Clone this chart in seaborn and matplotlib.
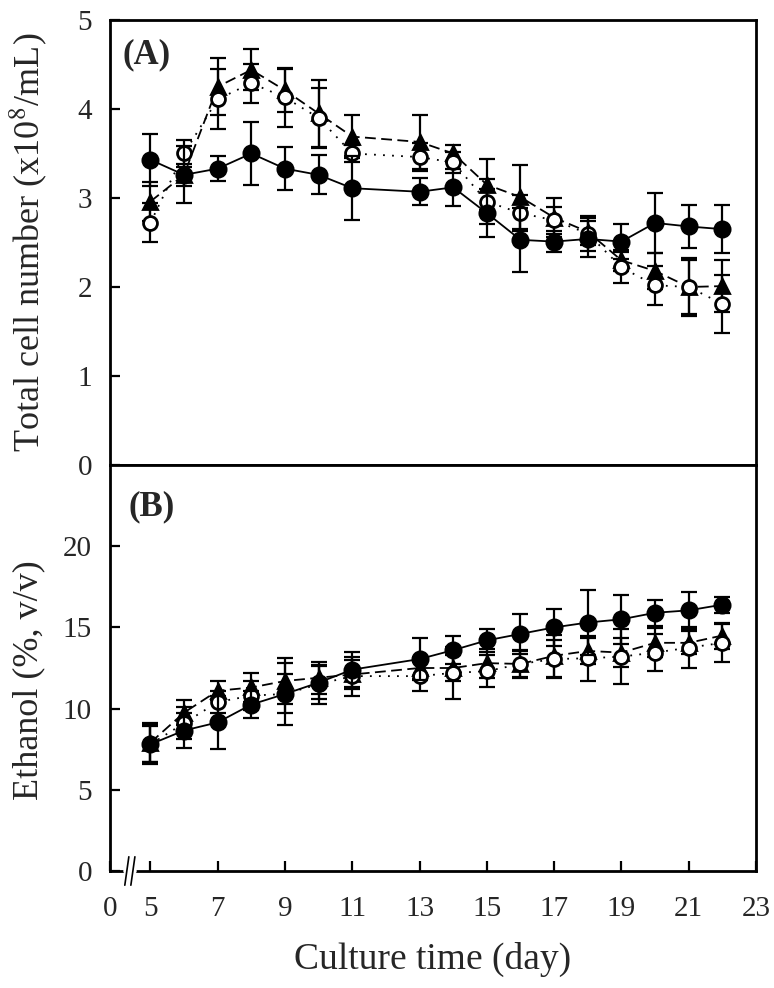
import matplotlib
matplotlib.use('Agg')
import matplotlib.pyplot as plt
import matplotlib.transforms as mtransforms
import seaborn as sns

# Culture days sampled
days = [5, 6, 7, 8, 9, 10, 11, 13, 14, 15, 16, 17, 18, 19, 20, 21, 22]

# (A) Total cell number (x10^8/mL)
cell_fill = [3.43, 3.26, 3.33, 3.50, 3.33, 3.26, 3.11, 3.07, 3.12, 2.83, 2.53, 2.51, 2.54, 2.51, 2.72, 2.68, 2.65]
cell_fill_err = [0.29, 0.32, 0.14, 0.35, 0.24, 0.22, 0.36, 0.15, 0.21, 0.27, 0.36, 0.12, 0.20, 0.20, 0.34, 0.24, 0.27]
cell_open = [2.72, 3.50, 4.11, 4.29, 4.13, 3.90, 3.50, 3.46, 3.40, 2.96, 2.83, 2.75, 2.60, 2.22, 2.02, 2.00, 1.81]
cell_open_err = [0.22, 0.15, 0.34, 0.22, 0.33, 0.34, 0.10, 0.16, 0.12, 0.25, 0.20, 0.15, 0.20, 0.17, 0.22, 0.30, 0.33]
cell_tri = [2.96, 3.26, 4.25, 4.44, 4.21, 3.95, 3.69, 3.63, 3.50, 3.15, 3.01, 2.78, 2.62, 2.30, 2.18, 2.00, 2.01]
cell_tri_err = [0.22, 0.12, 0.32, 0.23, 0.24, 0.38, 0.24, 0.30, 0.10, 0.29, 0.36, 0.22, 0.15, 0.12, 0.20, 0.33, 0.29]

# (B) Ethanol (%, v/v)
eth_fill = [7.8, 8.65, 9.15, 10.25, 10.9, 11.6, 12.4, 13.05, 13.6, 14.2, 14.6, 15.0, 15.3, 15.5, 15.9, 16.05, 16.4]
eth_fill_err = [1.2, 1.1, 1.65, 0.85, 1.2, 1.0, 1.1, 1.3, 0.85, 0.7, 1.25, 1.15, 2.0, 1.5, 0.8, 1.15, 0.5]
eth_open = [7.8, 9.1, 10.4, 10.8, 10.9, 11.5, 12.0, 12.0, 12.2, 12.3, 12.75, 13.05, 13.1, 13.2, 13.45, 13.75, 14.05]
eth_open_err = [1.1, 1.0, 0.7, 0.9, 1.9, 1.2, 1.2, 0.9, 1.6, 1.0, 0.85, 1.15, 1.4, 1.7, 1.15, 1.25, 1.15]
eth_tri = [7.9, 9.75, 11.1, 11.3, 11.7, 11.9, 12.1, 12.5, 12.5, 12.8, 12.75, 13.25, 13.55, 13.45, 14.05, 14.05, 14.5]
eth_tri_err = [1.2, 0.75, 0.6, 0.9, 1.4, 1.0, 0.9, 0.7, 0.8, 0.9, 0.8, 1.3, 0.8, 0.9, 0.9, 0.7, 0.8]

x_ticks = [3.8, 5, 7, 9, 11, 13, 15, 17, 19, 21, 23]
x_tick_labels = ['0', '5', '7', '9', '11', '13', '15', '17', '19', '21', '23']

sns.set_style('ticks')
plt.rcParams['font.family'] = ['Liberation Serif', 'DejaVu Serif']
plt.rcParams['mathtext.fontset'] = 'stix'
plt.rcParams['xtick.direction'] = 'in'
plt.rcParams['ytick.direction'] = 'in'

fig = plt.figure(figsize=(7.74, 9.88), dpi=100)
ax_a = fig.add_axes([110 / 774, 1 - 465 / 988, 646 / 774, 445 / 988])
ax_b = fig.add_axes([110 / 774, 1 - 871 / 988, 646 / 774, 406 / 988])

styles = [
    dict(marker='^', markersize=10, markerfacecolor='black', linestyle=(0, (6, 3)), z=3),
    dict(marker='o', markersize=10, markerfacecolor='white', linestyle=(0, (1, 4)), z=4),
    dict(marker='o', markersize=11, markerfacecolor='black', linestyle='-', z=5),
]


def draw_panel(ax, series):
    for (vals, errs), st in zip(series, styles):
        ax.errorbar(days, vals, yerr=errs, fmt='none', ecolor='black',
                    elinewidth=1.6, capsize=6, capthick=1.6, zorder=st['z'])
        sns.lineplot(x=days, y=vals, ax=ax, color='black', linewidth=1.3,
                     marker=st['marker'], markersize=st['markersize'],
                     markerfacecolor=st['markerfacecolor'], markeredgecolor='black',
                     markeredgewidth=2, linestyle=st['linestyle'], zorder=st['z'])
    for sp in ax.spines.values():
        sp.set_visible(True)
        sp.set_linewidth(2)
        sp.set_color('black')
    ax.set_xlim(3.8, 23)
    ax.tick_params(axis='both', length=7, width=1.6, labelsize=21, color='black')
    ax.tick_params(axis='y', pad=13)


draw_panel(ax_a, [(cell_tri, cell_tri_err), (cell_open, cell_open_err), (cell_fill, cell_fill_err)])
draw_panel(ax_b, [(eth_tri, eth_tri_err), (eth_open, eth_open_err), (eth_fill, eth_fill_err)])

# Top panel
ax_a.set_ylim(0, 5)
ax_a.set_yticks([0, 1, 2, 3, 4, 5])
ax_a.set_xticks([])
ax_a.set_ylabel(r'Total cell number (x10$^{8}$/mL)', fontsize=26)
ax_a.yaxis.set_label_coords(-0.095, 0.5)
ax_a.text(0.02, 0.958, '(A)', transform=ax_a.transAxes, fontsize=25,
          fontweight='bold', ha='left', va='top')

# Bottom panel
ax_b.set_ylim(0, 25)
ax_b.set_yticks([0, 5, 10, 15, 20])
ax_b.set_xticks(x_ticks)
ax_b.set_xticklabels(x_tick_labels)
ax_b.tick_params(axis='x', pad=18)
ax_b.set_ylabel('Ethanol (%, v/v)', fontsize=26)
ax_b.yaxis.set_label_coords(-0.1, 0.47)
ax_b.set_xlabel('Culture time (day)', fontsize=27, labelpad=14)
ax_b.text(0.028, 0.938, '(B)', transform=ax_b.transAxes, fontsize=25,
          fontweight='bold', ha='left', va='top')

# axis break mark on the x axis
trans = mtransforms.blended_transform_factory(ax_b.transData, ax_b.transAxes)
ax_b.plot([4.28, 4.52], [0, 0], color='white', linewidth=4, transform=trans,
          clip_on=False, zorder=10)
for xb in (4.3, 4.48):
    ax_b.plot([xb - 0.06, xb + 0.06], [-0.035, 0.035], color='black', linewidth=1.2,
              transform=trans, clip_on=False, zorder=11)

fig.savefig('out.png', dpi=100)
